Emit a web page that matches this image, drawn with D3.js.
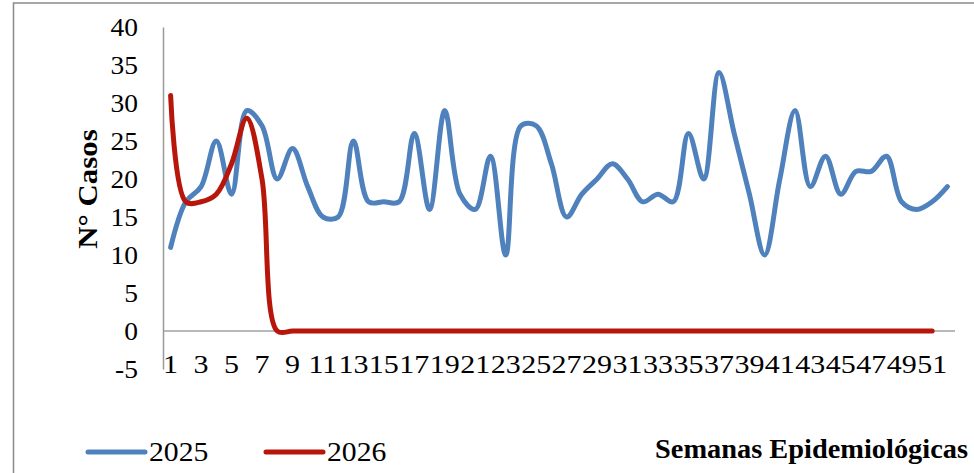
<!DOCTYPE html>
<html><head><meta charset="utf-8">
<script src="https://cdn.jsdelivr.net/npm/d3@7"></script>
<style>
html,body{margin:0;padding:0;background:#fff;}
svg{display:block;}
text{font-family:"Liberation Serif","Times New Roman",serif;fill:#000;}
</style></head>
<body>
<svg id="chart" width="974" height="473"></svg>
<script>
const weeks = d3.range(1, 53);
const tickWeeks = weeks.filter(w => w % 2 === 1);
const yTicks = [-5, 0, 5, 10, 15, 20, 25, 30, 35, 40];
const series2025 = [11,17,19,25,18,29,27,20,24,19,15,15,25,17,17,17,26,16,29,18,16,23,10,27,27,22,15,18,20,22,20,17,18,17,26,20,34,26,18,10,20,29,19,23,18,21,21,23,17,16,17,19];
const series2026 = [31,17,17,18,22,28,20,0,0,0,0,0,0,0,0,0,0,0,0,0,0,0,0,0,0,0,0,0,0,0,0,0,0,0,0,0,0,0,0,0,0,0,0,0,0,0,0,0,0,0,0];
const seriesNames = ["2025", "2026"];
const colors = ["#4F81BD", "#B8160B"];
const yTitle = "N° Casos";
const xTitle = "Semanas Epidemiológicas";

const svg = d3.select("#chart");
function stretch(factor){
  return sel => sel.each(function(){
    const l = this.getComputedTextLength();
    d3.select(this).attr("textLength", l*factor).attr("lengthAdjust","spacingAndGlyphs");
  });
}

// outer border (partially cropped)
svg.append("rect").attr("x",13.5).attr("y",3).attr("width",1000).attr("height",520)
  .attr("fill","none").attr("stroke","#8a8a8a").attr("stroke-width",1.5);

const x = d3.scaleBand().domain(weeks).range([163, 955]);
const y = d3.scaleLinear().domain([-5, 40]).range([369, 27]);

// zero line
svg.append("line").attr("x1",163).attr("x2",955).attr("y1",y(0)).attr("y2",y(0))
  .attr("stroke","#a0a0a0").attr("stroke-width",1.5);

// y axis
const yAxis = svg.append("g").attr("transform","translate(163,0)")
  .call(d3.axisLeft(y).tickValues(yTicks).tickFormat(d => String(d)).tickSize(0).tickSizeOuter(0).tickPadding(25));
yAxis.select(".domain").attr("stroke","#999").attr("stroke-width",1.5);
yAxis.selectAll("text").style("font-family","Liberation Serif").style("font-size","25px")
  .attr("dy","0.33em").call(stretch(1.1));

// x axis labels
const xAxis = svg.append("g").attr("transform","translate(0,369)")
  .call(d3.axisBottom(x).tickValues(tickWeeks).tickFormat(d => String(d)).tickSize(0).tickSizeOuter(0));
xAxis.select(".domain").remove();
xAxis.selectAll("text").style("font-family","Liberation Serif").style("font-size","25px")
  .attr("y",4).attr("dy","0").call(stretch(1.2));

// lines
const line = d3.line().x((d,i)=>x(weeks[i]) + x.bandwidth()/2).y(d=>y(d)).curve(d3.curveCatmullRom.alpha(0.5));
[series2025, series2026].forEach((s,k)=>{
  svg.append("path").datum(s).attr("d",line).attr("fill","none")
    .attr("stroke",colors[k]).attr("stroke-width",5)
    .attr("stroke-linejoin","round").attr("stroke-linecap","round");
});

// y title
svg.append("text").attr("transform","translate(97,189) rotate(-90)")
  .attr("text-anchor","middle").style("font-size","28px").style("font-weight","bold")
  .text(yTitle).call(stretch(1.1));

// legend
const legX = [88, 266];
seriesNames.forEach((n,k)=>{
  svg.append("line").attr("x1",legX[k]).attr("x2",legX[k]+57).attr("y1",452).attr("y2",452)
    .attr("stroke",colors[k]).attr("stroke-width",5).attr("stroke-linecap","round");
  svg.append("text").attr("x",legX[k]+61).attr("y",461).style("font-size","27px").text(n).call(stretch(1.1));
});

// x title
svg.append("text").attr("x",655).attr("y",458).style("font-size","27px").style("font-weight","bold")
  .text(xTitle).attr("textLength",313).attr("lengthAdjust","spacingAndGlyphs");
</script>
</body></html>
